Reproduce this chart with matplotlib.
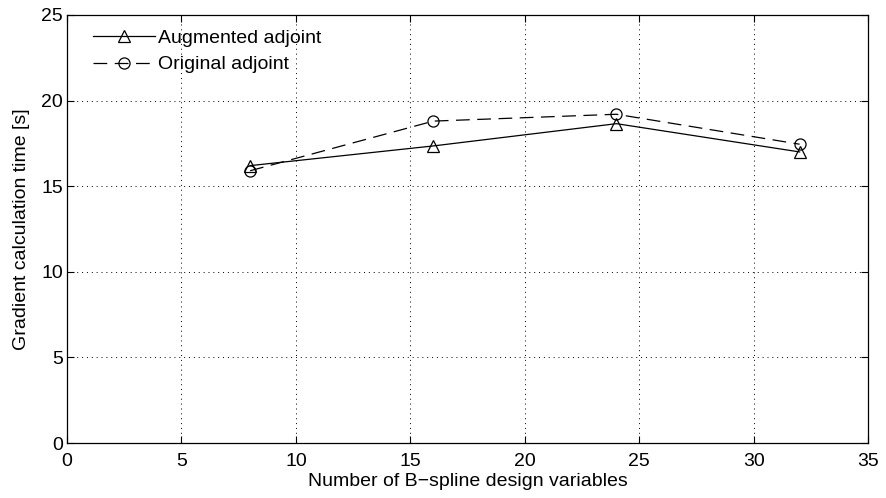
import matplotlib
matplotlib.use('Agg')
import matplotlib.pyplot as plt

plt.rcParams['font.family'] = ['Liberation Sans', 'DejaVu Sans']
plt.rcParams['font.size'] = 14

# data
n_vars = [8, 16, 24, 32]
t_augmented = [16.2, 17.35, 18.65, 17.0]
t_original = [15.9, 18.8, 19.2, 17.45]

fig = plt.figure(figsize=(8.86, 4.98), dpi=100)
ax = fig.add_axes([0.0756, 0.1104, 0.9044, 0.8596])

ax.plot(n_vars, t_augmented, 'k-^', lw=0.9, ms=8.5, mfc='none', mew=0.9,
        label='Augmented adjoint')
ax.plot(n_vars, t_original, 'k--o', lw=0.9, ms=8, mfc='none', mew=0.9,
        dashes=(11, 6), label='Original adjoint')

ax.set_xlim(0, 35)
ax.set_ylim(0, 25)
ax.set_xticks(range(0, 36, 5))
ax.set_yticks(range(0, 26, 5))
ax.grid(True, ls=(0, (1, 4)), color='k', lw=0.7)
ax.tick_params(direction='in', top=True, right=True, length=5, width=0.8)
ax.tick_params(axis='x', pad=7)
ax.tick_params(axis='y', pad=3)
for s in ax.spines.values():
    s.set_linewidth(0.9)

ax.set_xlabel('Number of B\u2212spline design variables', labelpad=2)
ax.set_ylabel('Gradient calculation time [s]', labelpad=8)

ax.legend(loc='upper left', bbox_to_anchor=(0.032, 0.966), frameon=False,
          handlelength=3.2, handletextpad=0.15, borderaxespad=0, borderpad=0,
          labelspacing=0.45)

fig.savefig('out.png', dpi=100)
